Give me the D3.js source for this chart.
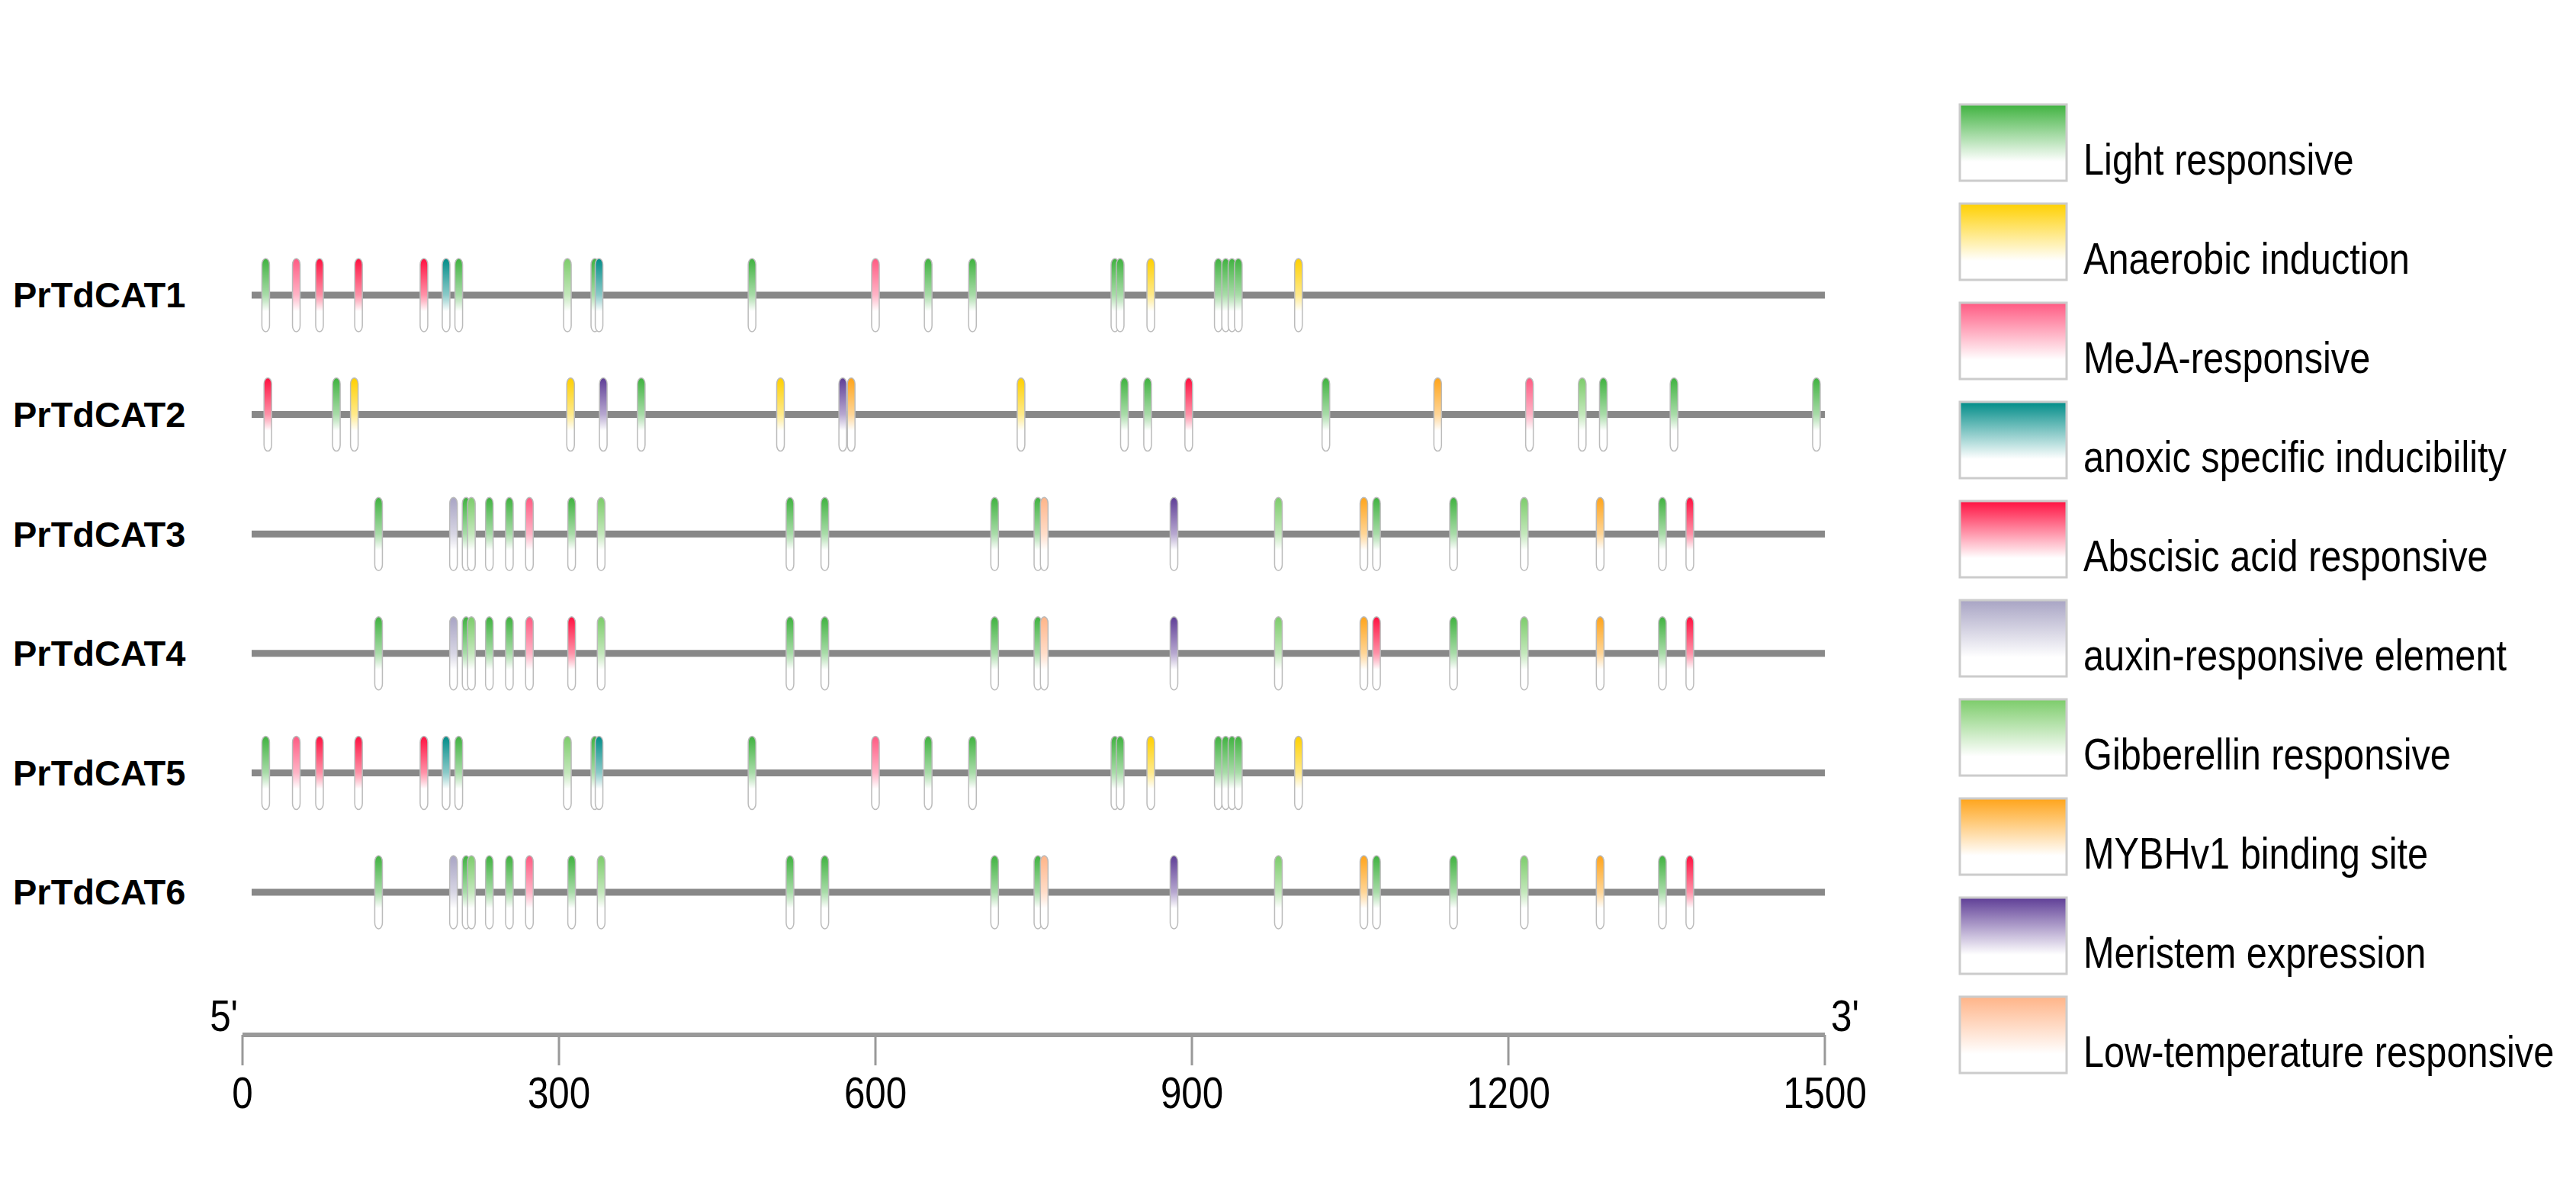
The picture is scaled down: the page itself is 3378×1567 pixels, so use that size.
<!DOCTYPE html>
<html><head><meta charset="utf-8">
<script src="https://cdn.jsdelivr.net/npm/d3@7"></script>
<style>body{margin:0;background:#fff}</style></head>
<body><svg id="c" width="3378" height="1567"></svg>
<script>
const genes = ["PrTdCAT1","PrTdCAT2","PrTdCAT3","PrTdCAT4","PrTdCAT5","PrTdCAT6"];
const types = ["Light responsive","Anaerobic induction","MeJA-responsive","anoxic specific inducibility","Abscisic acid responsive","auxin-responsive element","Gibberellin responsive","MYBHv1 binding site","Meristem expression","Low-temperature responsive"];
const typeColors = ["#3fb23f","#ffd000","#ff5a82","#008c88","#ff1040","#a8a4c4","#7ccc6a","#ffa41a","#5e3d96","#ffb488"];
// [position, typeIndex]
const cat1 = [[22,0],[51,2],[73,4],[110,4],[172,4],[193,3],[205,0],[308,6],[334,0],[338,3],[483,0],[600,2],[650,0],[692,0],[827,0],[832,0],[861,1],[925,0],[932,0],[938,0],[944,0],[1001,1]];
const cat2 = [[24,4],[89,0],[106,1],[311,1],[342,8],[378,0],[510,1],[569,8],[577,7],[738,1],[836,0],[858,0],[897,4],[1027,0],[1133,7],[1220,2],[1270,6],[1290,0],[1357,0],[1492,0]];
const cat3 = [[129,0],[200,5],[212,0],[217,6],[234,0],[253,0],[272,2],[312,0],[340,6],[519,0],[552,0],[713,0],[754,0],[760,9],[883,8],[982,6],[1063,7],[1075,0],[1148,0],[1215,6],[1287,7],[1346,0],[1372,4]];
const cat4 = [[129,0],[200,5],[212,0],[217,6],[234,0],[253,0],[272,2],[312,4],[340,6],[519,0],[552,0],[713,0],[754,0],[760,9],[883,8],[982,6],[1063,7],[1075,4],[1148,0],[1215,6],[1287,7],[1346,0],[1372,4]];
const cat5 = cat1;
const cat6 = cat3;
const geneElements = [cat1,cat2,cat3,cat4,cat5,cat6];
const geneLength = 1500;
const tickValues = [0,300,600,900,1200,1500];

const svg = d3.select("#c");
const x = d3.scaleLinear().domain([0,1500]).range([318,2393]);
const y = d3.scalePoint().domain(genes).range([387,1170]);
const narrow = "Liberation Sans Narrow, Arial Narrow, Liberation Sans, sans-serif";

const defs = svg.append("defs");
typeColors.forEach((c,i)=>{
  const g = defs.append("linearGradient").attr("id","g"+i).attr("x1",0).attr("x2",0).attr("y1",0).attr("y2",1);
  g.append("stop").attr("offset","0%").attr("stop-color",c);
  g.append("stop").attr("offset","50%").attr("stop-color",d3.interpolateRgb(c,"#fff")(0.55));
  g.append("stop").attr("offset","72%").attr("stop-color","#fff");
  g.append("stop").attr("offset","100%").attr("stop-color","#fff");
  const l = defs.append("linearGradient").attr("id","L"+i).attr("x1",0).attr("x2",0).attr("y1",0).attr("y2",1);
  l.append("stop").attr("offset","0%").attr("stop-color",c);
  l.append("stop").attr("offset","75%").attr("stop-color","#fff");
});

genes.forEach((gname,gi)=>{
  const gy = y(gname);
  svg.append("text").attr("x",17).attr("y",gy).attr("dy","0.35em")
    .attr("font-family","Liberation Sans, Arial, sans-serif").attr("font-weight","bold")
    .attr("font-size",47).text(gname);
  svg.append("line").attr("x1",x(0)+12).attr("x2",x(geneLength)).attr("y1",gy).attr("y2",gy)
    .attr("stroke","#888").attr("stroke-width",9);
  svg.append("g").selectAll("rect").data(geneElements[gi]).join("rect")
    .attr("x",d=>x(d[0])-5).attr("y",gy-48).attr("width",10).attr("height",96)
    .attr("rx",5).attr("ry",8)
    .attr("fill",d=>"url(#g"+d[1]+")").attr("stroke","#bbb").attr("stroke-width",1.5);
});

// axis
const ax = svg.append("g").attr("transform","translate(0,1357)");
ax.append("line").attr("x1",x(0)).attr("x2",x(1500)).attr("stroke","#999").attr("stroke-width",6);
ax.selectAll("line.t").data(tickValues).join("line").attr("class","t")
  .attr("x1",d=>x(d)).attr("x2",d=>x(d)).attr("y1",0).attr("y2",40).attr("stroke","#999").attr("stroke-width",3);
ax.selectAll("text").data(tickValues).join("text")
  .attr("transform",d=>`translate(${x(d)},96) scale(0.85,1)`).attr("text-anchor","middle")
  .attr("font-family",narrow).attr("font-size",58).text(d=>d);
svg.append("text").attr("transform",`translate(${x(0)-6},1352) scale(0.85,1)`).attr("text-anchor","end")
  .attr("font-family",narrow).attr("font-size",58).text("5'");
svg.append("text").attr("transform",`translate(${x(1500)+8},1352) scale(0.85,1)`)
  .attr("font-family",narrow).attr("font-size",58).text("3'");

// legend
const lg = svg.append("g").selectAll("g").data(types).join("g")
  .attr("transform",(d,i)=>`translate(0,${209+i*130})`);
lg.append("rect").attr("x",2570).attr("y",-72).attr("width",140).attr("height",100)
  .attr("fill",(d,i)=>"url(#L"+i+")").attr("stroke","#ccc").attr("stroke-width",3);
lg.append("text").attr("transform","translate(2732,0) scale(0.84,1)").attr("dy","0.35em")
  .attr("font-family",narrow).attr("font-size",58).text(d=>d);
</script></body></html>
